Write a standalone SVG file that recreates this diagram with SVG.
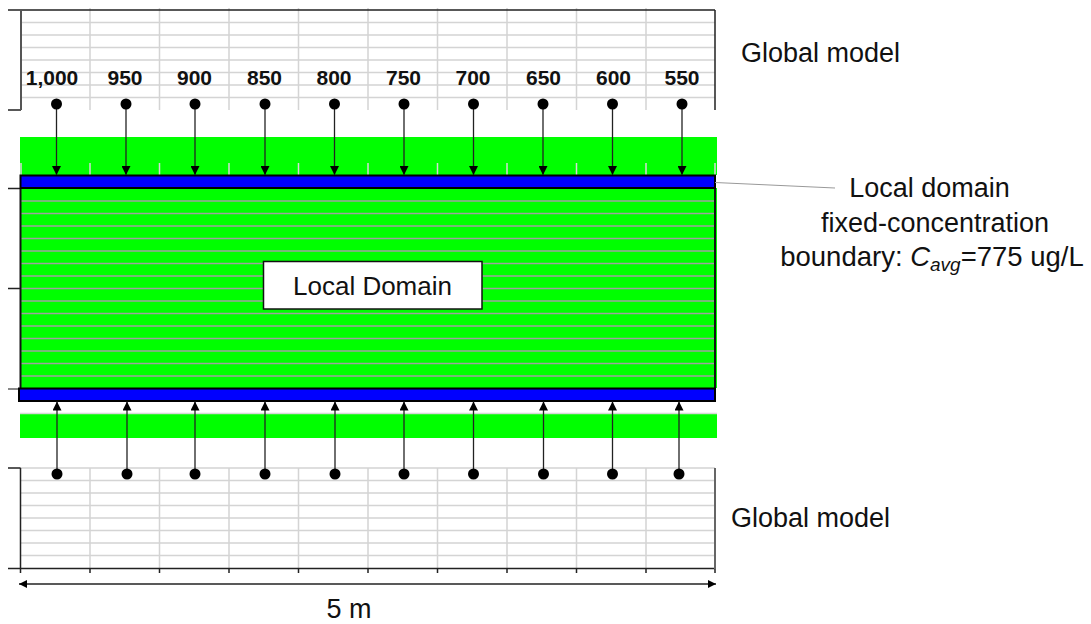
<svg xmlns="http://www.w3.org/2000/svg" width="1091" height="624" viewBox="0 0 1091 624">
<style>
.grid{stroke:#d4d4d4;stroke-width:1.5;fill:none}
.axis{stroke:#222;stroke-width:1.5;fill:none}
.lay{stroke:#a0a0a0;stroke-width:1.3;fill:none}
.green{fill:#00ff00}
.blue{fill:#0000ff;stroke:#000;stroke-width:2}
.lbl{font-family:"Liberation Sans",Arial,sans-serif;font-size:21px;font-weight:bold;fill:#111;text-anchor:middle}
.txt{font-family:"Liberation Sans",Arial,sans-serif;font-size:27px;fill:#111}
.conn{stroke:#222;stroke-width:1.3;fill:none}
.dot{fill:#000}
</style>
<defs>
<marker id="ah" viewBox="0 0 10 10" refX="10" refY="5" markerWidth="9" markerHeight="9" markerUnits="userSpaceOnUse" orient="auto">
<path d="M0,0 L10,5 L0,10 Z" fill="#000"/>
</marker>
<marker id="dh" viewBox="0 0 10 10" refX="10" refY="5" markerWidth="9" markerHeight="8" markerUnits="userSpaceOnUse" orient="auto-start-reverse">
<path d="M0,0 L10,5 L0,10 Z" fill="#000"/>
</marker>
</defs>
<rect width="1091" height="624" fill="#fff"/>

<g id="global-top">
<path class="grid" d="M21,22.5H715M21,35H715M21,47.5H715M21,60H715M21,72.5H715M21,85H715M21,97.5H715"/>
<path class="grid" d="M90,8V110M159.5,8V110M229,8V110M298.5,8V110M368,8V110M437.5,8V110M507,8V110M576.5,8V110M646,8V110"/>
<path class="axis" d="M8,10H715M715,10V110M8,110H21"/>
<path stroke="#555" stroke-width="2" d="M21,10V110"/>
<text class="lbl" x="52" y="85">1,000</text>
<text class="lbl" x="125" y="85">950</text>
<text class="lbl" x="194.5" y="85">900</text>
<text class="lbl" x="264.5" y="85">850</text>
<text class="lbl" x="334" y="85">800</text>
<text class="lbl" x="403.5" y="85">750</text>
<text class="lbl" x="473" y="85">700</text>
<text class="lbl" x="543.5" y="85">650</text>
<text class="lbl" x="613.5" y="85">600</text>
<text class="lbl" x="682" y="85">550</text>
<text class="txt" x="741" y="62">Global model</text>
</g>

<g id="band-top">
<rect class="green" x="20" y="137" width="697" height="38"/>
<path stroke="#d8d8d8" stroke-width="1.5" d="M21,163V175M90,163V175M159.5,163V175M229,163V175M298.5,163V175M368,163V175M437.5,163V175M507,163V175M576.5,163V175M646,163V175M715,163V175"/>
</g>

<g id="band-bottom">
<rect class="green" x="20" y="413" width="697" height="25"/>
<path stroke="#d8d8d8" stroke-width="1.5" d="M20,413.5H717"/>
</g>

<g id="local-domain">
<rect class="green" x="20" y="188" width="697" height="200"/>
<path class="lay" d="M21,201H715M21,213.5H715M21,226H715M21,238.5H715M21,251H715M21,263.5H715M21,276H715M21,288.5H715M21,301H715M21,313.5H715M21,326H715M21,338.5H715M21,351H715M21,363.5H715M21,376H715"/>
<path stroke="#111" stroke-width="2" fill="none" d="M20.5,188V388M715,188V388"/>
<path class="axis" d="M8,188.5H20M8,288.5H20"/>
<path stroke="#888" stroke-width="2" d="M8,389H20"/>
</g>

<g id="local-domain-label">
<rect x="263.5" y="261.5" width="218.5" height="47.5" fill="#fff" stroke="#111" stroke-width="1.5"/>
<text class="txt" x="372.5" y="295" text-anchor="middle" style="font-size:26px">Local Domain</text>
</g>

<g id="boundary-top">
<rect class="blue" x="20.5" y="175.5" width="694.5" height="12.5"/>
</g>
<g id="boundary-bottom">
<rect class="blue" x="19" y="388.5" width="696" height="12.5"/>
</g>

<g id="global-bottom">
<path class="grid" d="M20,468H715M20,480.5H715M20,493H715M20,505.5H715M20,518H715M20,530.5H715M20,543H715M20,555.5H715"/>
<path class="grid" d="M90,468V569M159.5,468V569M229,468V569M298.5,468V569M368,468V569M437.5,468V569M507,468V569M576.5,468V569M646,468V569"/>
<path class="axis" d="M8,568.5H715M20.5,468V569M8,468H20.5M20.5,569V573M90,569V573M159.5,569V573M229,569V573M298.5,569V573M368,569V573M437.5,569V573M507,569V573M576.5,569V573M646,569V573M715,569V573"/>
<path stroke="#666" stroke-width="2" d="M715,468V569"/>
<text class="txt" x="731" y="527">Global model</text>
</g>

<g id="boundary-label">
<text class="txt" x="929.5" y="197" text-anchor="middle">Local domain</text>
<text class="txt" x="935" y="232" text-anchor="middle">fixed-concentration</text>
<text class="txt" x="932" y="266" text-anchor="middle" style="font-size:27.5px">boundary: <tspan font-style="italic">C</tspan><tspan font-style="italic" style="font-size:19px" dy="5">avg</tspan><tspan dy="-5">=775 ug/L</tspan></text>
</g>

<g id="connectors">
<path stroke="#999" stroke-width="1" fill="none" d="M715,182.5L835,188"/>
<g class="conn" marker-end="url(#ah)">
<path d="M56.5,104V175"/><path d="M126,104V175"/><path d="M195,104V175"/><path d="M265,104V175"/><path d="M334.5,104V175"/>
<path d="M404,104V175"/><path d="M473.5,104V175"/><path d="M543,104V175"/><path d="M612.5,104V175"/><path d="M682,104V175"/>
<path d="M57,474V401.5"/><path d="M127,474V401.5"/><path d="M195,474V401.5"/><path d="M265,474V401.5"/><path d="M335,474V401.5"/>
<path d="M404,474V401.5"/><path d="M473.5,474V401.5"/><path d="M543.5,474V401.5"/><path d="M612.5,474V401.5"/><path d="M679,474V401.5"/>
</g>
<g class="dot">
<circle cx="56.5" cy="104" r="5.5"/><circle cx="126" cy="104" r="5.5"/><circle cx="195" cy="104" r="5.5"/><circle cx="265" cy="104" r="5.5"/><circle cx="334.5" cy="104" r="5.5"/>
<circle cx="404" cy="104" r="5.5"/><circle cx="473.5" cy="104" r="5.5"/><circle cx="543" cy="104" r="5.5"/><circle cx="612.5" cy="104" r="5.5"/><circle cx="682" cy="104" r="5.5"/>
<circle cx="57" cy="474" r="5.5"/><circle cx="127" cy="474" r="5.5"/><circle cx="195" cy="474" r="5.5"/><circle cx="265" cy="474" r="5.5"/><circle cx="335" cy="474" r="5.5"/>
<circle cx="404" cy="474" r="5.5"/><circle cx="473.5" cy="474" r="5.5"/><circle cx="543.5" cy="474" r="5.5"/><circle cx="612.5" cy="474" r="5.5"/><circle cx="679" cy="474" r="5.5"/>
</g>
<path class="conn" marker-start="url(#dh)" marker-end="url(#dh)" d="M19,584H716"/>
</g>

<g id="dimension-label">
<text class="txt" x="349" y="618" text-anchor="middle">5 m</text>
</g>
</svg>
